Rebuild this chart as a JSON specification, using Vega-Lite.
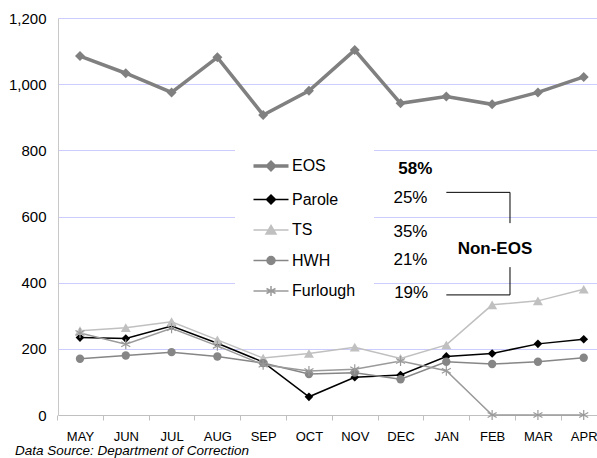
{
  "$schema": "https://vega.github.io/schema/vega-lite/v6.json",
  "width": 539,
  "height": 397,
  "autosize": {"type": "none"},
  "padding": {"left": 58, "top": 18, "right": 0, "bottom": 43},
  "background": "white",
  "config": {"font": "Liberation Sans", "view": {"stroke": null}},
  "title": {
    "text": "Data Source: Department of Correction",
    "orient": "bottom",
    "anchor": "start",
    "frame": "group",
    "fontSize": 13.5,
    "fontStyle": "italic",
    "fontWeight": "normal",
    "color": "black",
    "dx": -43,
    "offset": 1
  },
  "datasets": {
    "monthly": [
      {"m": 0, "month": "MAY", "EOS": 1085, "Parole": 234, "TS": 255, "HWH": 170, "Furlough": 248},
      {"m": 1, "month": "JUN", "EOS": 1033, "Parole": 231, "TS": 264, "HWH": 180, "Furlough": 214},
      {"m": 2, "month": "JUL", "EOS": 975, "Parole": 269, "TS": 282, "HWH": 190, "Furlough": 262},
      {"m": 3, "month": "AUG", "EOS": 1081, "Parole": 217, "TS": 227, "HWH": 177, "Furlough": 209},
      {"m": 4, "month": "SEP", "EOS": 907, "Parole": 160, "TS": 172, "HWH": 157, "Furlough": 152},
      {"m": 5, "month": "OCT", "EOS": 980, "Parole": 55, "TS": 186, "HWH": 124, "Furlough": 133},
      {"m": 6, "month": "NOV", "EOS": 1103, "Parole": 114, "TS": 205, "HWH": 128, "Furlough": 138},
      {"m": 7, "month": "DEC", "EOS": 942, "Parole": 121, "TS": 171, "HWH": 108, "Furlough": 163},
      {"m": 8, "month": "JAN", "EOS": 963, "Parole": 177, "TS": 212, "HWH": 161, "Furlough": 134},
      {"m": 9, "month": "FEB", "EOS": 939, "Parole": 186, "TS": 333, "HWH": 154, "Furlough": 0},
      {"m": 10, "month": "MAR", "EOS": 975, "Parole": 215, "TS": 345, "HWH": 161, "Furlough": 0},
      {"m": 11, "month": "APR", "EOS": 1022, "Parole": 229, "TS": 380, "HWH": 173, "Furlough": 0}
    ],
    "pct": [
      {"label": "25%", "x": 6.845, "y": 657},
      {"label": "35%", "x": 6.845, "y": 554},
      {"label": "21%", "x": 6.845, "y": 469},
      {"label": "19%", "x": 6.86, "y": 368}
    ],
    "boldText": [
      {"label": "58%", "x": 6.95, "y": 743},
      {"label": "Non-EOS", "x": 8.247, "y": 502}
    ],
    "bracket": [
      {"x": 8.0, "x2": 9.39, "y": 673, "y2": 673},
      {"x": 9.39, "x2": 9.39, "y": 673, "y2": 580},
      {"x": 9.39, "x2": 9.39, "y": 447, "y2": 363},
      {"x": 8.0, "x2": 9.39, "y": 363, "y2": 363}
    ]
  },
  "layer": [
    {
      "data": {"name": "monthly"},
      "transform": [{"fold": ["EOS", "Parole", "TS", "HWH", "Furlough"], "as": ["series", "value"]}],
      "mark": {"type": "line"},
      "encoding": {
        "x": {
          "field": "m",
          "type": "quantitative",
          "scale": {"domain": [-0.48, 11.29], "nice": false, "zero": false},
          "axis": {
            "title": null,
            "values": [0, 1, 2, 3, 4, 5, 6, 7, 8, 9, 10, 11],
            "labelExpr": "['MAY','JUN','JUL','AUG','SEP','OCT','NOV','DEC','JAN','FEB','MAR','APR'][datum.value]",
            "grid": false,
            "tickOffset": -22.9,
            "labelOffset": 22.9,
            "tickSize": 5,
            "tickColor": "#c0c0c0",
            "domainColor": "#c0c0c0",
            "labelFontSize": 13,
            "labelColor": "black",
            "labelPadding": 10
          }
        },
        "y": {
          "field": "value",
          "type": "quantitative",
          "scale": {"domain": [0, 1200], "nice": false},
          "axis": {
            "title": null,
            "values": [0, 200, 400, 600, 800, 1000, 1200],
            "format": ",d",
            "grid": true,
            "gridColor": "#ccccff",
            "domainColor": "#c8c8c8",
            "ticks": false,
            "labelPadding": 12,
            "labelFontSize": 15,
            "labelColor": "black"
          }
        },
        "color": {
          "field": "series",
          "type": "nominal",
          "scale": {
            "domain": ["EOS", "Parole", "TS", "HWH", "Furlough"],
            "range": ["#808080", "#000000", "#c0c0c0", "#868686", "#9a9a9a"]
          },
          "legend": {
            "orient": "none",
            "legendX": 177,
            "legendY": 122,
            "title": null,
            "fillColor": "white",
            "padding": 18,
            "symbolSize": 400,
            "rowPadding": 14.5,
            "labelFontSize": 16,
            "labelColor": "black",
            "labelOffset": 13,
            "symbolOffset": 10,
            "encode": {
              "symbols": {
                "update": {
                  "shape": {"signal": "datum.value==='EOS' ? 'M-1.75,0H1.75M0,-0.35L0.35,0L0,0.35L-0.35,0Z' : datum.value==='Parole' ? 'M-1.75,0H1.75M0,-0.45L0.45,0L0,0.45L-0.45,0Z' : datum.value==='TS' ? 'M-1.75,0H1.75M0,-0.45L0.5,0.4L-0.5,0.4Z' : datum.value==='HWH' ? 'M-1.75,0H1.75M0.4,0A0.4,0.4,0,1,1,-0.4,0A0.4,0.4,0,1,1,0.4,0Z' : 'M-1.75,0H1.75M0,-0.5V0.5M-0.45,-0.25L0.45,0.25M-0.45,0.25L0.45,-0.25'"},
                  "stroke": {"scale": "color", "field": "value"},
                  "fill": {"scale": "color", "field": "value"},
                  "strokeWidth": {"signal": "datum.value==='EOS' ? 3.5 : 1.5"},
                  "opacity": {"value": 1}
                }
              }
            }
          }
        },
        "strokeWidth": {"condition": {"test": "datum.series === 'EOS'", "value": 3.5}, "value": 1.5}
      }
    },
    {
      "data": {"name": "monthly"},
      "transform": [
        {"fold": ["EOS", "Parole", "TS", "HWH", "Furlough"], "as": ["series", "value"]},
        {"filter": "datum.series !== 'Furlough'"}
      ],
      "mark": {"type": "point", "filled": true, "opacity": 1},
      "encoding": {
        "x": {"field": "m", "type": "quantitative"},
        "y": {"field": "value", "type": "quantitative"},
        "color": {"field": "series", "type": "nominal"},
        "shape": {
          "field": "series",
          "type": "nominal",
          "scale": {"domain": ["EOS", "Parole", "TS", "HWH"], "range": ["diamond", "diamond", "triangle-up", "circle"]},
          "legend": null
        },
        "size": {"condition": [{"test": "datum.series === 'HWH'", "value": 70}, {"test": "datum.series === 'Parole'", "value": 75}], "value": 100}
      }
    },
    {
      "data": {"name": "monthly"},
      "transform": [
        {"fold": ["EOS", "Parole", "TS", "HWH", "Furlough"], "as": ["series", "value"]},
        {"filter": "datum.series === 'Furlough'"}
      ],
      "mark": {"type": "point", "filled": false, "opacity": 1, "size": 100, "strokeWidth": 1.2, "shape": "M0,-1V1M-0.9,-0.5L0.9,0.5M-0.9,0.5L0.9,-0.5"},
      "encoding": {
        "x": {"field": "m", "type": "quantitative"},
        "y": {"field": "value", "type": "quantitative"},
        "color": {"field": "series", "type": "nominal"}
      }
    },
    {
      "data": {"name": "bracket"},
      "mark": {"type": "rule", "color": "black", "strokeWidth": 1},
      "encoding": {
        "x": {"field": "x", "type": "quantitative"},
        "x2": {"field": "x2"},
        "y": {"field": "y", "type": "quantitative"},
        "y2": {"field": "y2"}
      }
    },
    {
      "data": {"name": "pct"},
      "mark": {"type": "text", "align": "left", "baseline": "middle", "fontSize": 17, "color": "black"},
      "encoding": {
        "x": {"field": "x", "type": "quantitative"},
        "y": {"field": "y", "type": "quantitative"},
        "text": {"field": "label"}
      }
    },
    {
      "data": {"name": "boldText"},
      "mark": {"type": "text", "align": "left", "baseline": "middle", "fontSize": 17, "fontWeight": "bold", "color": "black"},
      "encoding": {
        "x": {"field": "x", "type": "quantitative"},
        "y": {"field": "y", "type": "quantitative"},
        "text": {"field": "label"}
      }
    }
  ]
}
